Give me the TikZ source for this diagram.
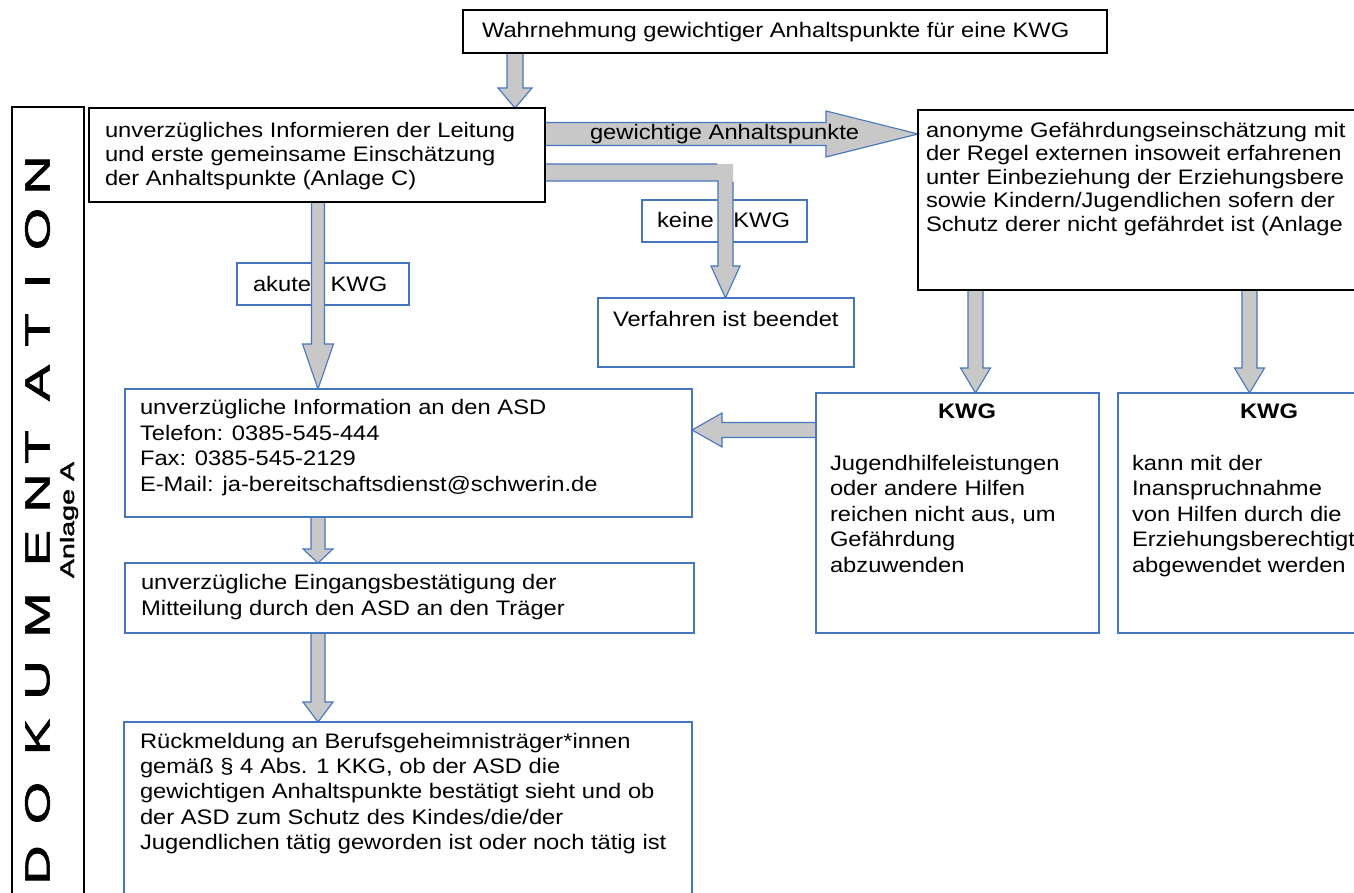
\documentclass[tikz,border=0pt]{standalone}
\usepackage{fontspec}
\setmainfont{Liberation Sans}[FakeStretch=1.13]
\newfontfamily\dokfont{Liberation Sans}[FakeBold=1.6]
\usepackage{graphicx}
\usetikzlibrary{calc}
\definecolor{ublue}{RGB}{70,118,190}
\definecolor{agray}{RGB}{200,200,200}
\pgfdeclarelayer{back}
\pgfsetlayers{back,main}
\tikzset{
  bbox/.style={draw=black, line width=1.3pt, rectangle, inner sep=0pt, outer sep=0pt, anchor=north west},
  ubox/.style={draw=ublue, line width=1.3pt, rectangle, inner sep=0pt, outer sep=0pt, anchor=north west},
  txt/.style={inner sep=0pt, outer sep=0pt, align=left, anchor=north west, font=\fontsize{21}{#1}\selectfont},
  txt/.default=25,
  lbl/.style={inner sep=0pt, outer sep=0pt, anchor=west, font=\fontsize{21}{24}\selectfont},
  afill/.style={fill=agray},
  aline/.style={draw=ublue, line width=1.1pt, line join=miter}
}
% vertical block arrow: #1 start (y used), #2 tip, #3 shaft half width, #4 head half width, #5 head length
\newcommand\varrow[5]{%
  \begin{pgfonlayer}{back}
  \path[afill] let \p1=#1, \p2=#2 in (\x2-#3pt,\y1) -- (\x2-#3pt,\y2+#5pt) -- (\x2-#4pt,\y2+#5pt) -- (\x2,\y2) -- (\x2+#4pt,\y2+#5pt) -- (\x2+#3pt,\y2+#5pt) -- (\x2+#3pt,\y1) -- cycle;
  \path[aline] let \p1=#1, \p2=#2 in (\x2-#3pt,\y1) -- (\x2-#3pt,\y2+#5pt) -- (\x2-#4pt,\y2+#5pt) -- (\x2,\y2) -- (\x2+#4pt,\y2+#5pt) -- (\x2+#3pt,\y2+#5pt) -- (\x2+#3pt,\y1);
  \end{pgfonlayer}}
% horizontal block arrow: #1 start (x used), #2 tip, #3 shaft half width, #4 head half width, #5 signed offset of head base from tip
\newcommand\harrow[5]{%
  \begin{pgfonlayer}{back}
  \path[afill] let \p1=#1, \p2=#2 in (\x1,\y2+#3pt) -- (\x2#5pt,\y2+#3pt) -- (\x2#5pt,\y2+#4pt) -- (\x2,\y2) -- (\x2#5pt,\y2-#4pt) -- (\x2#5pt,\y2-#3pt) -- (\x1,\y2-#3pt) -- cycle;
  \path[aline] let \p1=#1, \p2=#2 in (\x1,\y2+#3pt) -- (\x2#5pt,\y2+#3pt) -- (\x2#5pt,\y2+#4pt) -- (\x2,\y2) -- (\x2#5pt,\y2-#4pt) -- (\x2#5pt,\y2-#3pt) -- (\x1,\y2-#3pt);
  \end{pgfonlayer}}

\begin{document}
\begin{tikzpicture}[x=1pt,y=-1pt]
\useasboundingbox (0,0) rectangle (1354,893);

% DOKUMENTATION column
\node[bbox, minimum width=72pt, minimum height=800pt] (dok) at (12,107) {};
\foreach \l/\yy [count=\i] in {D/865,O/803,K/737,U/680,M/615,E/548,N/493,T/447,A/383,T/330,I/281,O/229,N/175}
  \node[rotate=90, inner sep=0pt] (dok\i) at (37.5,\yy) {\dokfont\fontsize{35}{36}\selectfont\scalebox{1.55}[1]{\l}};
\node[rotate=90, inner sep=0pt] (anl) at (69,520) {\dokfont\fontsize{19.5}{20}\selectfont\scalebox{1.47}[1]{Anlage A}};

% boxes
\node[bbox, minimum width=644pt, minimum height=43pt] (top) at (463,10) {};
\node[lbl] (top-t) at (482,32) {Wahrnehmung gewichtiger Anhaltspunkte für eine KWG};

\node[bbox, minimum width=456pt, minimum height=94pt] (tl) at (89,108) {};
\node[txt=24] (tl-t) at (105,122) {unverzügliches Informieren der Leitung\\und erste gemeinsame Einschätzung\\der Anhaltspunkte (Anlage C)};

\node[bbox, minimum width=500pt, minimum height=180pt] (an) at (918,110) {};
\node[txt=23.5] (an-t) at (926,122) {anonyme Gefährdungseinschätzung mit\\der Regel externen insoweit erfahrenen\\unter Einbeziehung der Erziehungsbere\\sowie Kindern/Jugendlichen sofern der\\Schutz derer nicht gefährdet ist (Anlage};

\node[ubox, minimum width=256pt, minimum height=69pt] (vf) at (598,298) {};
\node[txt] (vf-t) at (613,311) {Verfahren ist beendet};

\node[ubox, minimum width=567pt, minimum height=128pt] (asd) at (125,389) {};
\node[txt=25.8] (asd-t) at (140,399) {unverzügliche Information an den ASD\\Telefon: 0385-545-444\\Fax: 0385-545-2129\\E-Mail: ja-bereitschaftsdienst@schwerin.de};

\node[ubox, minimum width=569pt, minimum height=70pt] (eing) at (125,563) {};
\node[txt=26] (eing-t) at (141,574) {unverzügliche Eingangsbestätigung der\\Mitteilung durch den ASD an den Träger};

\node[ubox, minimum width=568pt, minimum height=190pt] (rk) at (124,722) {};
\node[txt=25.3] (rk-t) at (140,733) {Rückmeldung an Berufsgeheimnisträger*innen\\gemäß § 4 Abs. 1 KKG, ob der ASD die\\gewichtigen Anhaltspunkte bestätigt sieht und ob\\der ASD zum Schutz des Kindes/die/der\\Jugendlichen tätig geworden ist oder noch tätig ist};

\node[ubox, minimum width=283pt, minimum height=240pt] (kw1) at (816,393) {};
\node[inner sep=0pt, font=\fontsize{21}{24}\selectfont\bfseries] (kw1-h) at (967,411) {KWG};
\node[txt=25.5] (kw1-t) at (830,455) {Jugendhilfeleistungen\\oder andere Hilfen\\reichen nicht aus, um\\Gefährdung\\abzuwenden};

\node[ubox, minimum width=283pt, minimum height=240pt] (kw2) at (1118,393) {};
\node[inner sep=0pt, font=\fontsize{21}{24}\selectfont\bfseries] (kw2-h) at (1269,411) {KWG};
\node[txt=25.5] (kw2-t) at (1132,455) {kann mit der\\Inanspruchnahme\\von Hilfen durch die\\Erziehungsberechtigt\\abgewendet werden};

% label boxes under the arrows
\begin{pgfonlayer}{back}
\node[ubox, minimum width=172pt, minimum height=42pt] (ak) at (237,263) {};
\node[lbl] (ak-t) at (253,284) {akute\ \hspace{13pt}KWG};
\node[ubox, minimum width=165pt, minimum height=42pt] (ke) at (642,200) {};
\node[lbl] (ke-t) at (657,220) {keine\ \hspace{13pt}KWG};
\end{pgfonlayer}

% arrows
\varrow{(top.south)}{($(tl.north west)+(426,0)$)}{8}{17}{20}
\harrow{(tl.east)}{($(an.north west)+(0,24)$)}{11.5}{23}{-92}
\varrow{(tl.south)}{($(asd.north west)+(193,0)$)}{6.5}{15.5}{45}
\varrow{(an.south)}{($(kw1.north west)+(159.5,0)$)}{7.5}{15}{25}
\varrow{(an.south)}{($(kw2.north west)+(131.5,0)$)}{7.5}{15}{25}
\harrow{(kw1.west)}{($(asd.north east)+(0,41)$)}{7.5}{17}{+30}
\varrow{(asd.south)}{($(eing.north west)+(193,0)$)}{7}{15}{14}
\varrow{(eing.south)}{($(rk.north west)+(194,0)$)}{7}{15}{20}
% elbow arrow to "Verfahren ist beendet"
\begin{pgfonlayer}{back}
\path[afill] let \p1=($(tl.north east)+(0,56)$), \p2=($(vf.north west)+(127.5,0)$) in
  (\x1,\y1) -- (\x2+7.5pt,\y1) -- (\x2+7.5pt,\y2+32pt) -- (\x2+14.5pt,\y2+32pt) -- (\x2,\y2) -- (\x2-14.5pt,\y2+32pt) -- (\x2-7.5pt,\y2+32pt) -- (\x2-7.5pt,\y1-17pt) -- (\x1,\y1-17pt) -- cycle;
\path[aline] let \p1=($(tl.north east)+(0,56)$), \p2=($(vf.north west)+(127.5,0)$) in
  (\x2-8.5pt,\y1) -- (\x1,\y1)
  (\x1,\y1-17pt) -- (\x2-7.5pt,\y1-17pt) -- (\x2-7.5pt,\y2+32pt) -- (\x2-14.5pt,\y2+32pt) -- (\x2,\y2) -- (\x2+14.5pt,\y2+32pt) -- (\x2+7.5pt,\y2+32pt) -- (\x2+7.5pt,\y1-18pt);
\end{pgfonlayer}
\node[lbl] (gw-t) at (590,134) {gewichtige Anhaltspunkte};
\end{tikzpicture}
\end{document}
